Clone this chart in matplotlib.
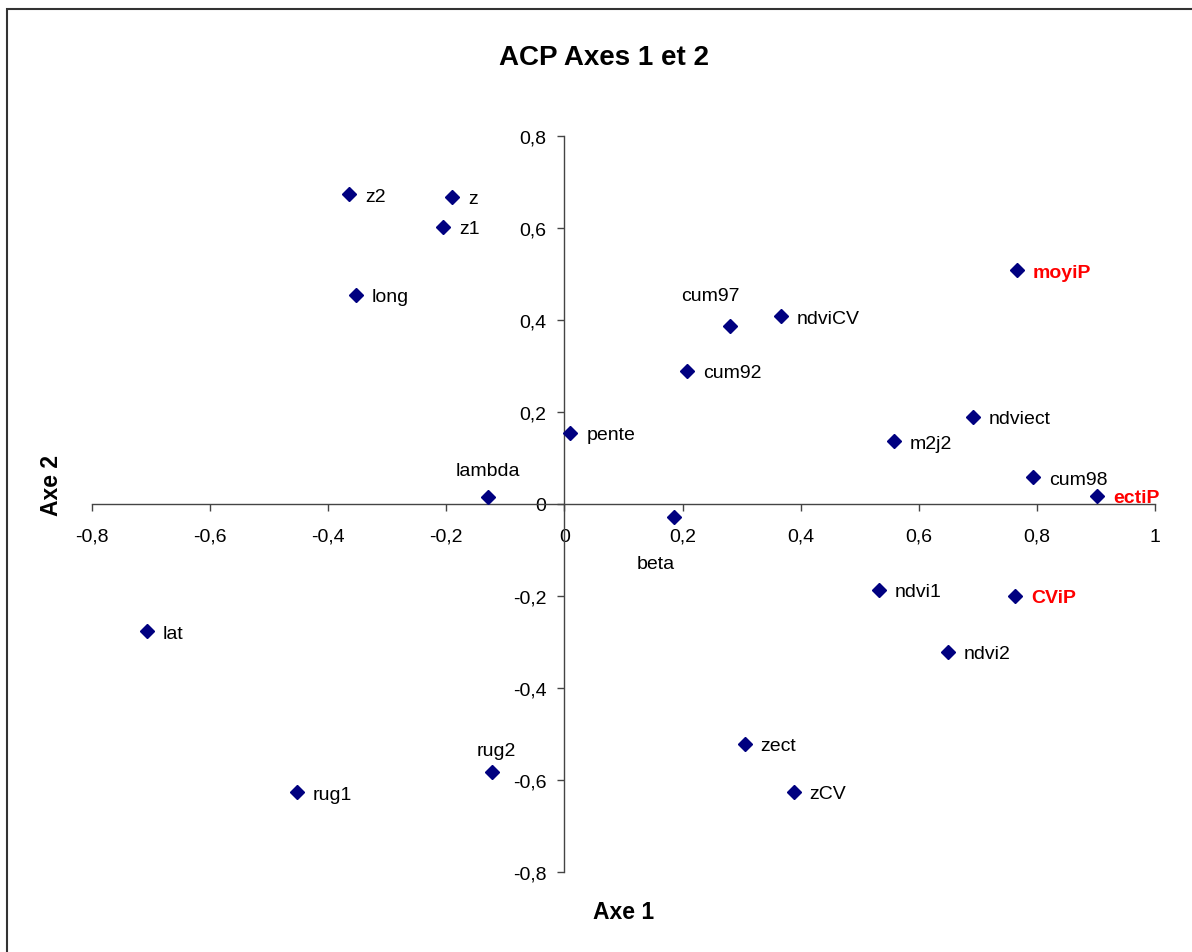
import matplotlib
matplotlib.use("Agg")
import matplotlib.pyplot as plt
from matplotlib.patches import Rectangle
from matplotlib.ticker import FuncFormatter

plt.rcParams['font.family'] = ['Liberation Sans', 'DejaVu Sans']

# Variable coordinates on the first two principal axes
names = ["z2", "z", "z1", "long", "cum97", "ndviCV", "cum92", "moyiP", "pente",
         "ndviect", "m2j2", "lambda", "beta", "cum98", "ectiP", "ndvi1", "CViP",
         "ndvi2", "lat", "zect", "zCV", "rug2", "rug1"]
axe1 = [-0.364, -0.190, -0.205, -0.353, 0.280, 0.366, 0.207, 0.766, 0.010,
        0.692, 0.558, -0.130, 0.186, 0.793, 0.902, 0.532, 0.763,
        0.649, -0.707, 0.305, 0.388, -0.122, -0.453]
axe2 = [0.673, 0.668, 0.603, 0.455, 0.388, 0.408, 0.290, 0.508, 0.155,
        0.190, 0.136, 0.016, -0.029, 0.058, 0.018, -0.186, -0.199,
        -0.321, -0.277, -0.521, -0.625, -0.582, -0.627]
highlighted = ["moyiP", "ectiP", "CViP"]

x_ticks = [-0.8, -0.6, -0.4, -0.2, 0, 0.2, 0.4, 0.6, 0.8, 1]
y_ticks = [-0.8, -0.6, -0.4, -0.2, 0, 0.2, 0.4, 0.6, 0.8]

W, H = 1192, 953
fig = plt.figure(figsize=(W / 100, H / 100), dpi=100)
fig.patch.set_facecolor("white")

# outer chart frame
fig.patches.append(Rectangle((7 / W, -0.05), 1.2, 1 - 10 / H + 0.05,
                             transform=fig.transFigure, fill=False,
                             edgecolor="#333333", linewidth=1.5))

left, right = 92 / W, 1155 / W
bottom, top = 1 - 873 / H, 1 - 137 / H
ax = fig.add_axes([left, bottom, right - left, top - bottom])
ax.set_xlim(-0.8, 1.0)
ax.set_ylim(-0.8, 0.8)
ax.patch.set_alpha(0)

for side in ("top", "right"):
    ax.spines[side].set_visible(False)
ax.spines["left"].set_position(("data", 0))
ax.spines["bottom"].set_position(("data", 0))
for side in ("left", "bottom"):
    ax.spines[side].set_color("#444444")
    ax.spines[side].set_linewidth(1.0)

ax.set_xticks(x_ticks)
ax.set_yticks(y_ticks)
fmt = FuncFormatter(lambda v, p: ("%g" % round(v, 2)).replace(".", ","))
ax.xaxis.set_major_formatter(fmt)
ax.yaxis.set_major_formatter(fmt)
ax.tick_params(axis="x", direction="out", length=5, width=1, color="#444444",
               labelsize=14, pad=12)
ax.tick_params(axis="y", direction="out", length=5, width=1, color="#444444",
               labelsize=14, pad=8)

ax.plot(axe1, axe2, linestyle="none", marker="D", markersize=7,
        color="#000080", zorder=3, clip_on=False)

# label placement (pixel offsets from each marker)
special = {
    "cum97": ((-19, 32), "center"),
    "lambda": ((0, 28), "center"),
    "beta": ((-19, -44), "center"),
    "rug2": ((4, 23), "center"),
}
for n, x, y in zip(names, axe1, axe2):
    off, ha = special.get(n, ((16, 0), "left"))
    red = n in highlighted
    ax.annotate(n, (x, y), xytext=off, textcoords="offset pixels",
                ha=ha, va="center_baseline", fontsize=14,
                color="#FF0000" if red else "black",
                fontweight="bold" if red else "normal")

fig.text(604 / W, 1 - 58 / H, "ACP Axes 1 et 2", ha="center", va="center",
         fontsize=20, fontweight="bold")
fig.text(624 / W, 1 - 913 / H, "Axe 1", ha="center", va="center",
         fontsize=16.5, fontweight="bold")
fig.text(51 / W, 1 - 485 / H, "Axe 2", ha="center", va="center",
         fontsize=16.5, fontweight="bold", rotation=90)

fig.savefig("out.png", dpi=100)
